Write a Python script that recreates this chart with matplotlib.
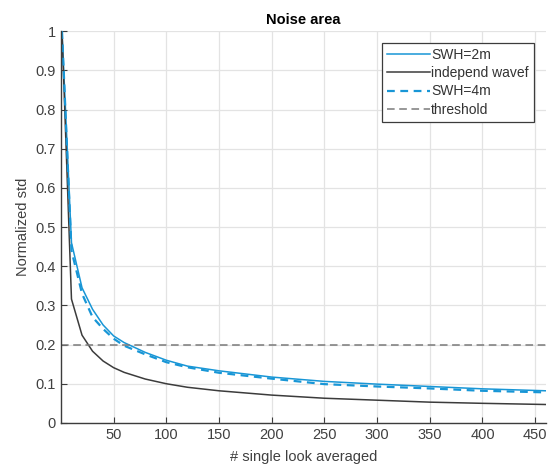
import matplotlib.pyplot as plt

plt.rcParams["font.family"] = ["Liberation Sans", "DejaVu Sans"]

# data
n_looks = [1, 10, 20, 30, 40, 50, 60, 80, 100, 120, 150, 200, 250, 300, 350, 400, 460]
swh2 = [1.0, 0.46, 0.345, 0.29, 0.25, 0.222, 0.205, 0.18, 0.16, 0.145, 0.133,
        0.117, 0.106, 0.099, 0.093, 0.087, 0.082]
independ = [1.0, 0.316, 0.224, 0.183, 0.158, 0.141, 0.129, 0.112, 0.1, 0.091, 0.082,
            0.071, 0.063, 0.058, 0.053, 0.05, 0.047]
swh4 = [1.0, 0.44, 0.33, 0.27, 0.24, 0.215, 0.197, 0.175, 0.155, 0.142, 0.128,
        0.113, 0.099, 0.093, 0.088, 0.082, 0.078]
threshold = 0.2
x_ticks = [50, 100, 150, 200, 250, 300, 350, 400, 450]
y_ticks = [0, 0.1, 0.2, 0.3, 0.4, 0.5, 0.6, 0.7, 0.8, 0.9, 1]

fig = plt.figure(figsize=(5.49, 4.72), dpi=100)
ax = fig.add_axes([0.111, 0.104, 0.883, 0.830])

blue = "#1896d6"
ax.plot(n_looks, swh2, color=blue, lw=1.1, label="SWH=2m")
ax.plot(n_looks, independ, color="#3c3c3c", lw=1.1, label="independ wavef")
ax.plot(n_looks, swh4, color=blue, lw=1.6, ls=(0, (3.5, 2.5)), label="SWH=4m")
ax.axhline(threshold, color="#7a7a7a", lw=1.1, ls=(0, (5, 3)), label="threshold")

ax.set_xlim(0, 460)
ax.set_ylim(0, 1)
ax.set_xticks(x_ticks)
ax.set_yticks(y_ticks)
ax.set_yticklabels(["0", "0.1", "0.2", "0.3", "0.4", "0.5", "0.6", "0.7", "0.8", "0.9", "1"])
ax.grid(True, color="#e3e3e3", lw=0.9)
ax.set_axisbelow(True)

for side in ["top", "right"]:
    ax.spines[side].set_visible(False)
for side in ["left", "bottom"]:
    ax.spines[side].set_color("#3c3c3c")
    ax.spines[side].set_linewidth(1.0)
ax.tick_params(direction="in", length=4, colors="#3c3c3c", labelsize=10.5, labelcolor="#404040")

ax.set_title("Noise area", fontsize=10.5, fontweight="bold", pad=5)
ax.set_xlabel("# single look averaged", fontsize=10.5, color="#404040", labelpad=6)
ax.set_ylabel("Normalized std", fontsize=10.5, color="#404040", labelpad=4)

leg = ax.legend(loc="upper right", bbox_to_anchor=(0.975, 0.969), fontsize=10,
                handlelength=3.1, handletextpad=0.1, borderpad=0.35, labelspacing=0.3,
                fancybox=False, framealpha=1, borderaxespad=0)
leg.get_frame().set_edgecolor("#3c3c3c")
leg.get_frame().set_linewidth(0.9)
for t in leg.get_texts():
    t.set_color("#333333")

fig.savefig("out.png", dpi=100)
